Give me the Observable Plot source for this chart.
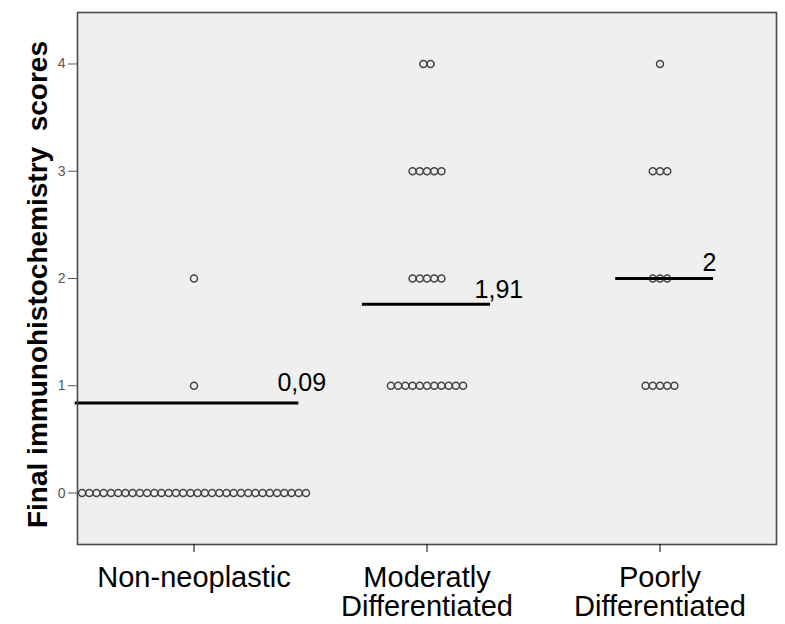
<!DOCTYPE html>
<html><head><meta charset="utf-8">
<script src="https://cdn.jsdelivr.net/npm/d3@7"></script>
<script src="https://cdn.jsdelivr.net/npm/@observablehq/plot@0.6"></script>
<style>body{margin:0;background:#fff;font-family:"Liberation Sans",Arial,sans-serif}</style>
</head><body><div id="chart"></div>
<script>
// Categories and tick labels
const categories = ["Non-neoplastic", "Moderatly\nDifferentiated", "Poorly\nDifferentiated"];
const scores = [0, 1, 2, 3, 4];
const yTicks = [0, 1, 2, 3, 4];
const yTitle = "Final immunohistochemistry  scores";

// Number of cases at each score (0..4) per category
const nonNeoplasticCounts = [32, 1, 1, 0, 0];
const moderatelyCounts = [0, 11, 5, 5, 2];
const poorlyCounts = [0, 5, 3, 3, 1];

// Mean lines as drawn, and their annotations
const meanLevels = [0.84, 1.76, 2.0];
const meanLabels = ["0,09", "1,91", "2"];
const meanLineFrom = [-0.51, -0.277, -0.19];
const meanLineTo = [0.45, 0.273, 0.23];
const meanLabelX = [0.358, 0.204, 0.182];
const meanLabelY = [1.026, 1.893, 2.145];

const countsByCategory = [nonNeoplasticCounts, moderatelyCounts, poorlyCounts];
const dotStep = 0.031;
const dots = [];
countsByCategory.forEach((counts, c) => counts.forEach((n, s) => {
  for (let j = 0; j < n; j++) dots.push({x: c + (j - (n - 1) / 2) * dotStep, y: scores[s]});
}));
const idx = categories.map((d, i) => i);

const chart = Plot.plot({
  width: 785, height: 624,
  marginLeft: 77, marginRight: 9, marginTop: 12, marginBottom: 80,
  style: {background: "#fff", fontFamily: "'Liberation Sans', Arial, sans-serif", overflow: "visible"},
  x: {type: "linear", domain: [-0.5, 2.5]},
  y: {domain: [-0.48, 4.48]},
  marks: [
    Plot.frame({fill: "#efefef", stroke: "none"}),
    Plot.dot(dots, {x: "x", y: "y", r: 3.5, stroke: "#444", strokeWidth: 1.5, fill: "none"}),
    Plot.ruleY(idx, {y: i => meanLevels[i], x1: i => i + meanLineFrom[i], x2: i => i + meanLineTo[i], stroke: "#000", strokeWidth: 3}),
    Plot.text(idx, {x: i => i + meanLabelX[i], y: i => meanLabelY[i], text: i => meanLabels[i], textAnchor: "start", lineAnchor: "middle", fontSize: 25, fill: "#000"}),
    Plot.frame({stroke: "#4a4a4a", strokeWidth: 1.6}),
    Plot.axisY({ticks: yTicks, tickFormat: d3.format("d"), tickSize: 9, tickPadding: 3, fontSize: 14, color: "#555", label: null}),
    Plot.axisX({ticks: idx, tickFormat: i => categories[i], tickSize: 8, tickPadding: 14, fontSize: 29, lineHeight: 1.0, label: null, color: "#000"}),
    Plot.text([yTitle], {frameAnchor: "left", dx: -39, dy: 6, rotate: -90, textAnchor: "middle", lineAnchor: "middle", fontSize: 28, fontWeight: "bold", fill: "#000"})
  ]
});
document.getElementById("chart").append(chart);
</script>
</body></html>
